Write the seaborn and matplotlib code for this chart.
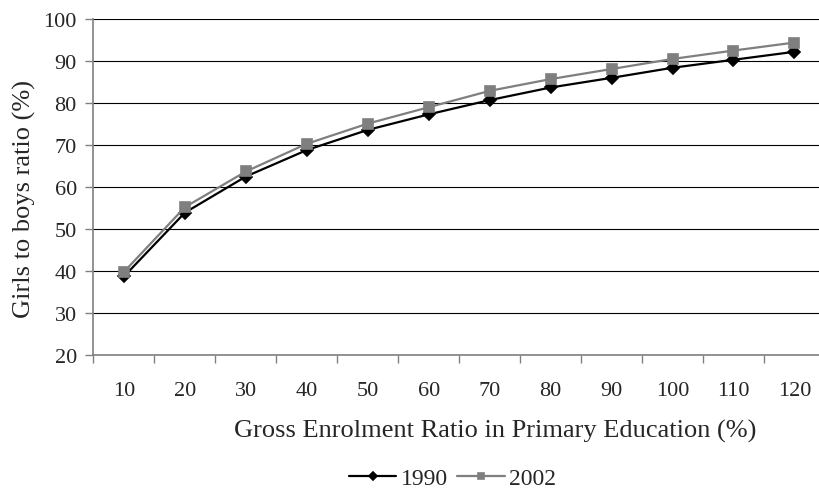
import numpy as np
import pandas as pd
import seaborn as sns
import matplotlib
import matplotlib.pyplot as plt
from matplotlib.ticker import MultipleLocator, FixedLocator

matplotlib.use('Agg')
sns.set_style("white")
plt.rcParams['font.family'] = ['Liberation Serif', 'DejaVu Serif']

# Datos
categorias = ['10', '20', '30', '40', '50', '60', '70', '80', '90', '100', '110', '120']
serie_1990 = [38.7, 53.9, 62.5, 68.8, 73.6, 77.3, 80.7, 83.7, 86.0, 88.4, 90.3, 92.2]
serie_2002 = [39.8, 55.2, 63.7, 70.3, 75.1, 79.0, 82.9, 85.7, 88.1, 90.5, 92.5, 94.4]
anios = ['1990', '2002']

df = pd.DataFrame({
    'GER': categorias * 2,
    'Ratio': serie_1990 + serie_2002,
    'Year': [anios[0]] * len(categorias) + [anios[1]] * len(categorias),
})

fig = plt.figure(figsize=(8.2, 4.89), dpi=100)
ax = fig.add_axes([0.114, 0.272, 0.892, 0.687])

sns.pointplot(data=df, x='GER', y='Ratio', hue='Year', order=categorias,
              hue_order=anios, palette={'1990': 'black', '2002': '#7f7f7f'},
              markers=['D', 's'], linestyles=['-', '-'], errorbar=None,
              markersize=6.5, linewidth=1.6, ax=ax)

ax.set_xlim(-0.5, len(categorias) - 0.5)
ax.set_ylim(20, 100)
ax.yaxis.set_major_locator(MultipleLocator(10))
ax.grid(True, axis='y', color='black', linewidth=0.8)
ax.set_axisbelow(True)

# ticks del eje x en los limites de cada categoria
ax.xaxis.set_minor_locator(FixedLocator(np.arange(-0.5, len(categorias), 1)))
ax.tick_params(axis='x', which='major', length=0, pad=19, labelsize=16)
ax.tick_params(axis='x', which='minor', length=6, color='#808080', width=1, direction='out')
ax.tick_params(axis='y', length=6, color='#808080', width=1, direction='out', labelsize=16, pad=6)
ax.tick_params(bottom=True, left=True, which='both')

for lado in ['top', 'right']:
    ax.spines[lado].set_visible(False)
for lado in ['left', 'bottom']:
    ax.spines[lado].set_color('#808080')
    ax.spines[lado].set_linewidth(1.2)

ax.set_xlabel('Gross Enrolment Ratio in Primary Education (%)', fontsize=19)
ax.set_ylabel('Girls to boys ratio (%)', fontsize=19)
ax.xaxis.set_label_coords(0.549, -0.19)
ax.yaxis.set_label_coords(-0.079, 0.467)

handles, labels = ax.get_legend_handles_labels()
ax.get_legend().remove()
fig.legend(handles, labels, loc='center', bbox_to_anchor=(0.552, 0.02), ncol=2,
           frameon=False, fontsize=17, handlelength=2.0, handletextpad=0.2,
           columnspacing=0.4, numpoints=1, markerscale=0.7, borderpad=0)

plt.savefig('out.png', dpi=100)
